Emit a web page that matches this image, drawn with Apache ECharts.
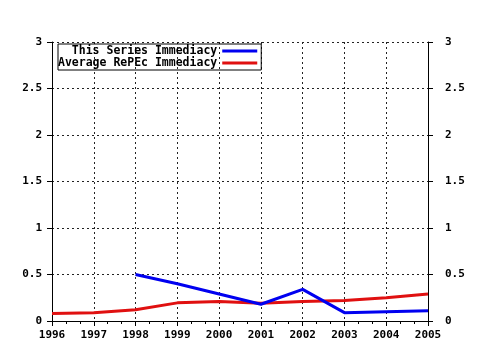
<!DOCTYPE html>
<html lang="en">
<head>
    <meta charset="UTF-8">
    <title>Immediacy</title>
    <script src="https://cdn.jsdelivr.net/npm/echarts@6/dist/echarts.min.js"></script>
    <style>
        html, body { margin: 0; padding: 0; background: #fff; }
    </style>
</head>
<body>
<div id="main" style="width: 480px;height:350px;"></div>
<script type="text/javascript">
    // data
    var years = [1996, 1997, 1998, 1999, 2000, 2001, 2002, 2003, 2004, 2005];
    var seriesYears = [1998, 1999, 2000, 2001, 2002, 2003, 2004, 2005];
    var seriesImmediacy = [0.50, 0.40, 0.29, 0.18, 0.34, 0.09, 0.10, 0.11];
    var repecImmediacy = [0.08, 0.09, 0.12, 0.195, 0.21, 0.19, 0.21, 0.22, 0.25, 0.29];
    var yTicks = [0, 0.5, 1, 1.5, 2, 2.5, 3];

    function pairs(xs, ys) {
        var out = [];
        for (var i = 0; i < xs.length; i++) out.push([xs[i], ys[i]]);
        return out;
    }

    var font = { fontFamily: 'DejaVu Sans Mono', fontWeight: 'bold', fontSize: 11, color: '#000' };
    var dotted = { show: true, lineStyle: { color: '#222', width: 1, type: [2, 3] } };

    var myChart = echarts.init(document.getElementById('main'));
    var option = {
        backgroundColor: '#fff',
        animation: false,
        grid: { left: 52, right: 52, top: 42, bottom: 29 },
        legend: {
            orient: 'vertical',
            left: 58,
            top: 44,
            align: 'right',
            icon: 'rect',
            itemWidth: 35,
            itemHeight: 3,
            itemGap: 0,
            borderColor: '#000',
            borderWidth: 1,
            padding: [1, 4, 1, 0],
            textStyle: { fontFamily: 'DejaVu Sans Mono', fontWeight: 'bold', fontSize: 11.5, color: '#000', lineHeight: 12 },
            data: ['  This Series Immediacy', 'Average RePEc Immediacy']
        },
        xAxis: {
            type: 'value',
            min: years[0],
            max: years[years.length - 1],
            interval: 1,
            axisLine: { lineStyle: { color: '#000', width: 1 } },
            axisTick: { length: 5, lineStyle: { color: '#000' } },
            minorTick: { show: true, splitNumber: 3, length: 3, lineStyle: { color: '#000' } },
            splitLine: dotted,
            axisLabel: Object.assign({ margin: 9, formatter: function (v) { return String(v); } }, font)
        },
        yAxis: [
            {
                type: 'value', min: 0, max: 3, interval: 0.5, position: 'left',
                axisLine: { show: true, lineStyle: { color: '#000', width: 1 } },
                axisTick: { show: true, length: 5, lineStyle: { color: '#000' } },
                splitLine: dotted,
                axisLabel: Object.assign({ margin: 10, formatter: function (v) { return yTicks.indexOf(v) >= 0 ? String(v) : ''; } }, font)
            },
            {
                type: 'value', min: 0, max: 3, interval: 0.5, position: 'right',
                axisLine: { show: true, lineStyle: { color: '#000', width: 1 } },
                axisTick: { show: true, length: 5, lineStyle: { color: '#000' } },
                splitLine: { show: false },
                axisLabel: Object.assign({ margin: 17, formatter: function (v) { return String(v); } }, font)
            }
        ],
        series: [
            {
                name: '  This Series Immediacy',
                type: 'line',
                showSymbol: false,
                color: '#0000f0',
                lineStyle: { width: 3, color: '#0000f0' },
                data: pairs(seriesYears, seriesImmediacy),
                z: 3
            },
            {
                name: 'Average RePEc Immediacy',
                type: 'line',
                showSymbol: false,
                color: '#e01010',
                lineStyle: { width: 3, color: '#e01010' },
                data: pairs(years, repecImmediacy),
                z: 2
            }
        ]
    };
    myChart.setOption(option);
</script>
</body>
</html>
